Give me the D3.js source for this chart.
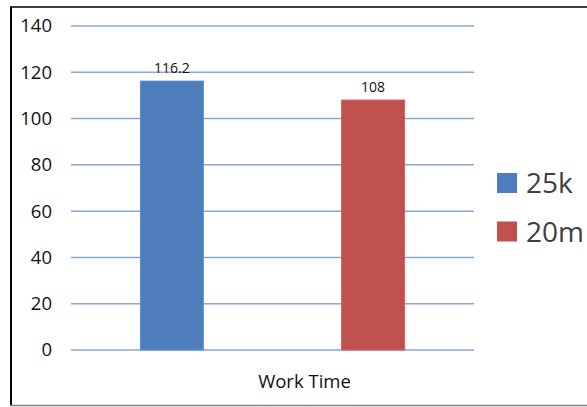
<!DOCTYPE html>
<html>
<head>
<meta charset="utf-8">
<script src="https://cdn.jsdelivr.net/npm/d3@7"></script>
<style>
  html, body { margin: 0; padding: 0; background: #fff; }
  svg { display: block; }
  text { font-family: "Open Sans", "Liberation Sans", sans-serif; }
</style>
</head>
<body>
<svg id="chart" width="587" height="407"></svg>
<script>
// Chart data
const categories = ["Work Time"];
const seriesNames = ["25k", "20m"];
const seriesValues = [116.2, 108];
const seriesColors = ["#4f7dbb", "#c0504d"];
const yTicks = [0, 20, 40, 60, 80, 100, 120, 140];

const svg = d3.select("#chart");

// Outer frame
svg.append("line").attr("x1", 11).attr("x2", 11).attr("y1", 7).attr("y2", 406)
  .attr("stroke", "#000").attr("stroke-width", 2);
svg.append("line").attr("x1", 10).attr("x2", 587).attr("y1", 7).attr("y2", 7)
  .attr("stroke", "#000").attr("stroke-width", 1.5);
svg.append("line").attr("x1", 10).attr("x2", 587).attr("y1", 405.5).attr("y2", 405.5)
  .attr("stroke", "#808080").attr("stroke-width", 1.5);

const plot = { left: 71, right: 474, top: 26, bottom: 350 };

const y = d3.scaleLinear().domain([0, 140]).range([plot.bottom, plot.top]);
const xCat = d3.scaleBand().domain(categories).range([plot.left, plot.right]);
const xSeries = d3.scaleBand().domain(seriesNames)
  .range([0, xCat.bandwidth()]).paddingInner(0.687).paddingOuter(0.345);

// Gridlines
svg.append("g").selectAll("line").data(yTicks).join("line")
  .attr("x1", plot.left).attr("x2", plot.right)
  .attr("y1", d => y(d)).attr("y2", d => y(d))
  .attr("stroke", "#88a8d6").attr("stroke-width", 1.5);

// Y axis labels
const yAxis = d3.axisLeft(y).tickValues(yTicks).tickSize(0).tickPadding(0);
const yg = svg.append("g").attr("transform", `translate(52,0)`).call(yAxis);
yg.select(".domain").remove();
yg.selectAll("text").attr("font-size", 18.5).attr("fill", "#111")
  .attr("font-family", "'Open Sans', 'Liberation Sans', sans-serif");

// Bars
const bars = svg.append("g");
categories.forEach(cat => {
  seriesNames.forEach((s, i) => {
    const x0 = xCat(cat) + xSeries(s);
    bars.append("rect")
      .attr("x", x0).attr("width", xSeries.bandwidth())
      .attr("y", y(seriesValues[i])).attr("height", y(0) - y(seriesValues[i]))
      .attr("fill", seriesColors[i])
      .attr("stroke", d3.color(seriesColors[i]).brighter(0.4)).attr("stroke-width", 1);
    bars.append("text")
      .attr("x", x0 + xSeries.bandwidth() / 2)
      .attr("y", y(seriesValues[i]) - 8.5)
      .attr("text-anchor", "middle")
      .attr("font-size", 14).attr("fill", "#111")
      .text(seriesValues[i]);
  });
});

// Category label
svg.append("g").selectAll("text").data(categories).join("text")
  .attr("x", d => xCat(d) + xCat.bandwidth() / 2 + 32)
  .attr("y", 388)
  .attr("text-anchor", "middle")
  .attr("font-size", 18.5).attr("fill", "#111")
  .text(d => d);

// Legend
const legend = svg.append("g").attr("transform", "translate(497,173)");
seriesNames.forEach((s, i) => {
  const g = legend.append("g").attr("transform", `translate(0,${i * 48.5})`);
  g.append("rect").attr("width", 20).attr("height", 20).attr("fill", seriesColors[i]);
  g.append("text").attr("x", 29).attr("y", 20).attr("font-size", 28)
    .attr("fill", "#404040").text(s);
});
</script>
</body>
</html>
